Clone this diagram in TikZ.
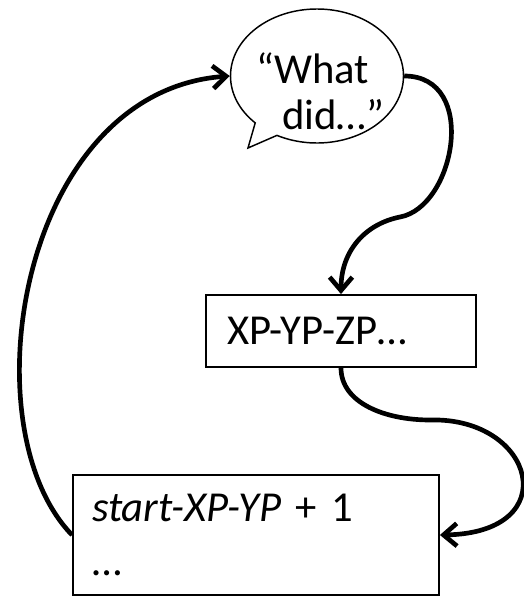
\documentclass[tikz,border=0pt]{standalone}
\usepackage{fontspec}
\setmainfont{Carlito}
\usetikzlibrary{shapes.callouts,arrows.meta}

\begin{document}
\begin{tikzpicture}[x=0.75pt,y=0.75pt,
        box/.style={draw,line width=1.4pt,align=left,inner ysep=0pt},
        bubble/.style={ellipse callout,draw,line width=1.1pt,inner sep=0pt,
            minimum width=129.75pt,minimum height=100.5pt,callout pointer arc=18},
        flow/.style={line width=3.5pt,-{Straight Barb[length=10pt,width=17pt]}}]
    \useasboundingbox (0,0) rectangle (524,597);
    \coordinate (tip) at (248,449);
    \node[bubble,callout absolute pointer={(tip)}] (what) at (317,521) {};
    \node[align=left,font=\fontsize{32}{34.5}\selectfont] (whattext) at (320,506)
        {“What\\\hspace*{19.5pt}did…”};
    \node[box,text width=171pt,inner xsep=15.75pt,minimum height=54pt,
        font=\fontsize{32}{34.5}\selectfont] (xp) at (341,266) {XP-YP-ZP…};
    \node[box,text width=246pt,inner xsep=14.25pt,minimum height=90pt,
        font=\fontsize{32}{40}\selectfont] (last) at (256,62)
        {\textit{start-XP-YP} + 1\\…};
    % bends of the two right hand curves
    \coordinate (bendA) at (400,380);
    \coordinate (bendB) at (430,177);
    \draw[flow] (what.east) .. controls +(75,0) and +(55,10) .. (bendA)
        .. controls +(-35,-7) and +(0,43) .. (xp.north);
    \draw[flow] (xp.south) .. controls +(0,-35) and +(-45,0) .. (bendB)
        .. controls +(105,3) and +(126,2) .. (last.east);
    \draw[flow] (last.west) .. controls +(-105,108) and +(-210,-15) .. (what.west);
\end{tikzpicture}
\end{document}
